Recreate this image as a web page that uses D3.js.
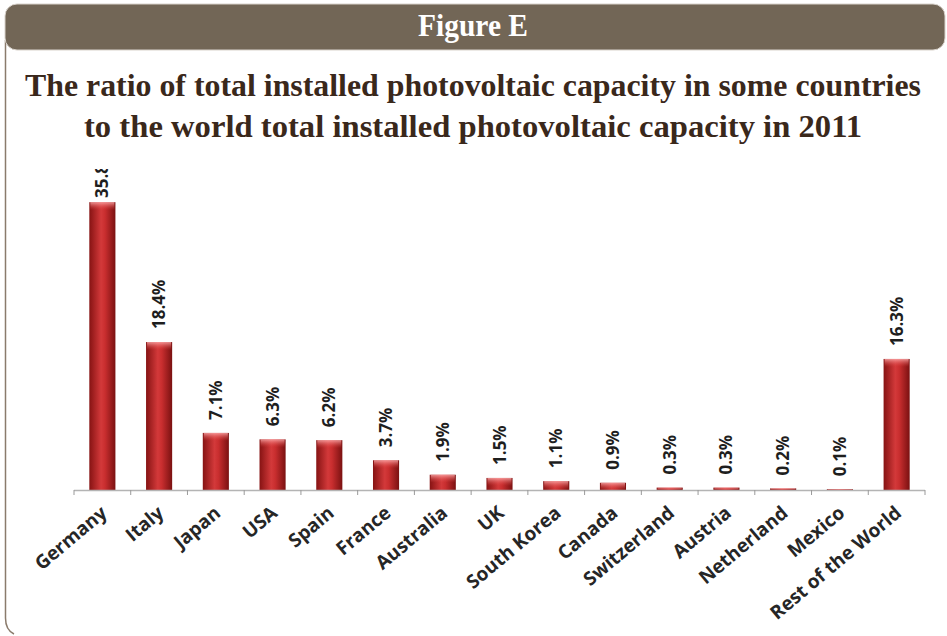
<!DOCTYPE html>
<html lang="en">
<head>
    <meta charset="UTF-8">
    <script src="https://d3js.org/d3.v7.min.js"></script>
    <style>
        body {margin: 0; background-color: #ffffff}
        svg {display: block}
    </style>
</head>
<body>
<svg class="chart"></svg>
<script type="text/javascript">
    // chart data
    let countries = ['Germany', 'Italy', 'Japan', 'USA', 'Spain', 'France', 'Australia', 'UK',
        'South Korea', 'Canada', 'Switzerland', 'Austria', 'Netherland', 'Mexico', 'Rest of the World'];
    let shares = [35.8, 18.4, 7.1, 6.3, 6.2, 3.7, 1.9, 1.5, 1.1, 0.9, 0.3, 0.3, 0.2, 0.1, 16.3];
    let header_text = 'Figure E';
    let title_lines = ['The ratio of total installed photovoltaic capacity in some countries',
        'to the world total installed photovoltaic capacity in 2011'];

    let width = 947;
    let height = 636;
    let plot_left = 74;
    let plot_right = 925;
    let base_y = 490;
    let px_per_pct = 8.04;
    let label_top = 148;   // labels are kept inside the chart area, like Excel does

    var svg = d3.select('.chart')
        .attr('width', width)
        .attr('height', height);

    // bar gradients
    var defs = svg.append('defs');
    var grad = defs.append('linearGradient').attr('id', 'bar_grad')
        .attr('x1', '0%').attr('x2', '100%').attr('y1', '0%').attr('y2', '0%');
    grad.append('stop').attr('offset', '0%').attr('stop-color', '#861313');
    grad.append('stop').attr('offset', '45%').attr('stop-color', '#d3393a');
    grad.append('stop').attr('offset', '60%').attr('stop-color', '#c92e2f');
    grad.append('stop').attr('offset', '100%').attr('stop-color', '#7a1111');

    var top_grad = defs.append('linearGradient').attr('id', 'top_grad')
        .attr('x1', '0%').attr('x2', '0%').attr('y1', '0%').attr('y2', '100%');
    top_grad.append('stop').attr('offset', '0%').attr('stop-color', '#ffb0b0').attr('stop-opacity', 0.8);
    top_grad.append('stop').attr('offset', '100%').attr('stop-color', '#e04040').attr('stop-opacity', 0);

    defs.append('clipPath').attr('id', 'chart_clip')
        .append('rect').attr('x', 8).attr('y', 169).attr('width', 935).attr('height', 460);

    // frame
    svg.append('path')
        .attr('d', 'M5.5,40 L5.5,618 Q5.5,630 14,634')
        .attr('fill', 'none')
        .attr('stroke', '#8a7b6c')
        .attr('stroke-width', 1.5);

    svg.append('rect')
        .attr('x', 5).attr('y', 4)
        .attr('width', 940).attr('height', 46)
        .attr('rx', 12).attr('ry', 12)
        .attr('fill', '#726656')
        .attr('stroke', '#d9d3cc')
        .attr('stroke-width', 1);

    svg.append('text')
        .attr('x', 473).attr('y', 36)
        .attr('text-anchor', 'middle')
        .attr('fill', '#ffffff')
        .attr('font-family', "'Liberation Serif', 'Times New Roman', serif")
        .attr('font-weight', 'bold')
        .attr('font-size', 31)
        .attr('textLength', 110)
        .attr('lengthAdjust', 'spacingAndGlyphs')
        .text(header_text);

    title_lines.forEach((line, i) => {
        svg.append('text')
            .attr('x', 473).attr('y', 96 + i * 41)
            .attr('text-anchor', 'middle')
            .attr('fill', '#3a281b')
            .attr('font-family', "'Liberation Serif', 'Times New Roman', serif")
            .attr('font-weight', 'bold')
            .attr('font-size', 31)
            .attr('textLength', i === 0 ? 896 : 778)
            .attr('lengthAdjust', 'spacingAndGlyphs')
            .text(line);
    });

    var x = d3.scaleBand()
        .domain(countries)
        .range([plot_left, plot_right])
        .paddingInner(0.54)
        .paddingOuter(0.27);

    var y = d3.scaleLinear()
        .domain([0, 36])
        .range([base_y, base_y - 36 * px_per_pct]);

    var chart = svg.append('g').attr('clip-path', 'url(#chart_clip)');

    // bars
    var bars = chart.append('g');
    bars.selectAll('rect.bar').data(shares).enter().append('rect')
        .attr('class', 'bar')
        .attr('x', (d, i) => x(countries[i]))
        .attr('y', d => y(d))
        .attr('width', x.bandwidth())
        .attr('height', d => base_y - y(d))
        .attr('fill', 'url(#bar_grad)');
    bars.selectAll('rect.hl').data(shares).enter().append('rect')
        .attr('class', 'hl')
        .attr('x', (d, i) => x(countries[i]) + 1)
        .attr('y', d => y(d))
        .attr('width', x.bandwidth() - 2)
        .attr('height', d => Math.min(8, base_y - y(d)))
        .attr('fill', 'url(#top_grad)');

    // axis line with ticks between categories
    var axis_g = chart.append('g');
    axis_g.append('line')
        .attr('x1', plot_left).attr('x2', plot_right)
        .attr('y1', base_y + 0.5).attr('y2', base_y + 0.5)
        .attr('stroke', '#b4b4b4').attr('stroke-width', 1.5);
    var step = (plot_right - plot_left) / countries.length;
    d3.range(countries.length + 1).forEach(i => {
        axis_g.append('line')
            .attr('x1', plot_left + i * step).attr('x2', plot_left + i * step)
            .attr('y1', base_y).attr('y2', base_y + 5)
            .attr('stroke', '#9a9a9a').attr('stroke-width', 1);
    });

    // value labels
    chart.append('g').selectAll('text').data(shares).enter().append('text')
        .attr('transform', (d, i) => {
            let gap = Math.max(3, Math.min(13, y(d) - label_top - 50));
            return 'translate(' + (x(countries[i]) + x.bandwidth() / 2 + 6) + ',' + (y(d) - gap) + ') rotate(-90)';
        })
        .attr('font-family', 'Open Sans, sans-serif')
        .attr('font-weight', 'bold')
        .attr('font-size', 17)
        .attr('fill', '#1e1e1e')
        .text(d => d.toFixed(1) + '%');

    // category labels
    chart.append('g').selectAll('text').data(countries).enter().append('text')
        .attr('transform', d => 'translate(' + (x(d) + x.bandwidth() / 2 + 6) + ',' + (base_y + 25) + ') rotate(-40)')
        .attr('text-anchor', 'end')
        .attr('font-family', 'Open Sans, sans-serif')
        .attr('font-weight', 'bold')
        .attr('font-size', 19)
        .attr('fill', '#262626')
        .text(d => d);
</script>
</body>
</html>
